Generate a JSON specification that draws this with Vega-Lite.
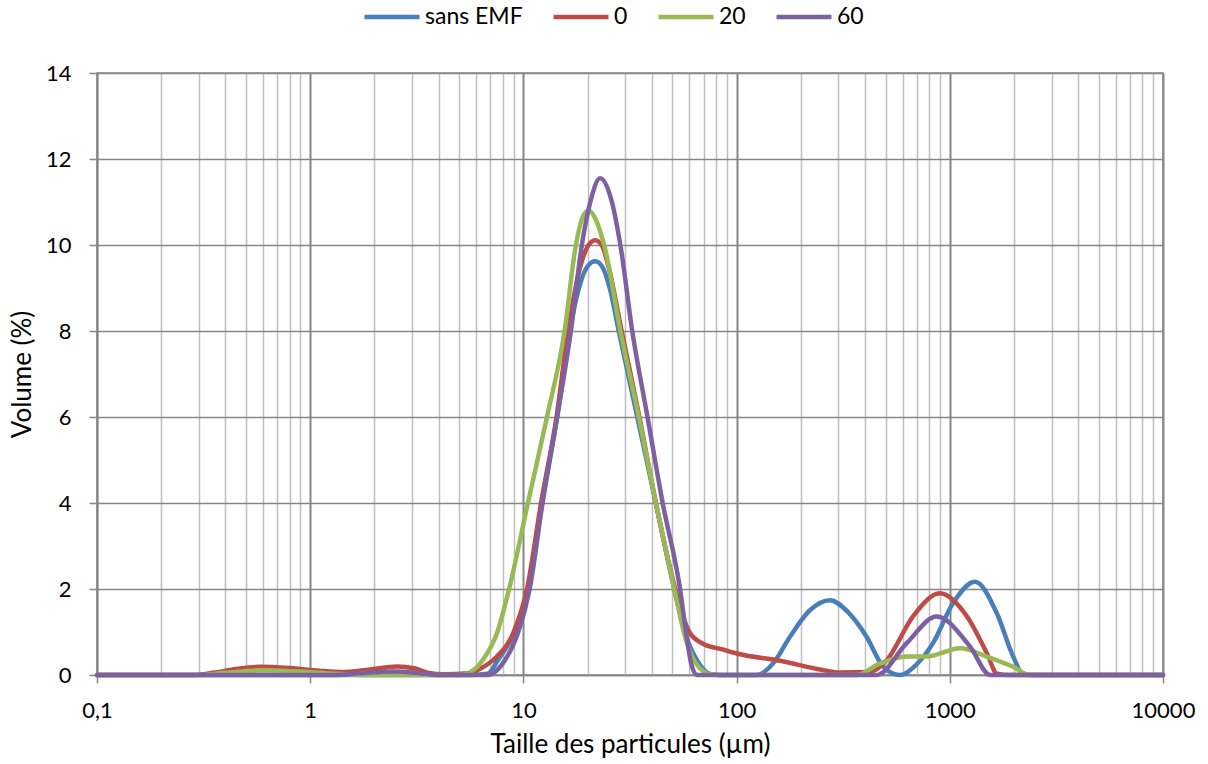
{
  "$schema": "https://vega.github.io/schema/vega-lite/v6.json",
  "autosize": "none",
  "width": 1066,
  "height": 602,
  "padding": {"left": 97, "top": 73, "right": 45, "bottom": 89},
  "background": "white",
  "config": {
    "font": "Lato",
    "view": {"stroke": "#868686", "strokeWidth": 1.5}
  },
  "data": {
    "values": [
      {"s": "sans EMF", "x": 0.1, "y": 0},
      {"s": "sans EMF", "x": 1, "y": 0},
      {"s": "sans EMF", "x": 5.5, "y": 0},
      {"s": "sans EMF", "x": 6.8, "y": 0.03},
      {"s": "sans EMF", "x": 7.6, "y": 0.35},
      {"s": "sans EMF", "x": 9.1, "y": 1.0},
      {"s": "sans EMF", "x": 10.6, "y": 2.0},
      {"s": "sans EMF", "x": 12.2, "y": 4.0},
      {"s": "sans EMF", "x": 14.4, "y": 6.0},
      {"s": "sans EMF", "x": 16.5, "y": 8.0},
      {"s": "sans EMF", "x": 18.6, "y": 9.15},
      {"s": "sans EMF", "x": 20.1, "y": 9.52},
      {"s": "sans EMF", "x": 21.7, "y": 9.62},
      {"s": "sans EMF", "x": 23.4, "y": 9.5},
      {"s": "sans EMF", "x": 25.4, "y": 9.0},
      {"s": "sans EMF", "x": 28.0, "y": 8.0},
      {"s": "sans EMF", "x": 34.2, "y": 6.0},
      {"s": "sans EMF", "x": 41.8, "y": 4.0},
      {"s": "sans EMF", "x": 51.0, "y": 2.0},
      {"s": "sans EMF", "x": 58.0, "y": 0.9},
      {"s": "sans EMF", "x": 66.0, "y": 0.3},
      {"s": "sans EMF", "x": 76.0, "y": 0.02},
      {"s": "sans EMF", "x": 90.0, "y": 0},
      {"s": "sans EMF", "x": 124, "y": 0},
      {"s": "sans EMF", "x": 150, "y": 0.3},
      {"s": "sans EMF", "x": 178, "y": 0.89},
      {"s": "sans EMF", "x": 220, "y": 1.5},
      {"s": "sans EMF", "x": 274, "y": 1.74},
      {"s": "sans EMF", "x": 335, "y": 1.45},
      {"s": "sans EMF", "x": 407, "y": 0.89},
      {"s": "sans EMF", "x": 488, "y": 0.19},
      {"s": "sans EMF", "x": 584, "y": 0},
      {"s": "sans EMF", "x": 700, "y": 0.25},
      {"s": "sans EMF", "x": 834, "y": 0.74},
      {"s": "sans EMF", "x": 1035, "y": 1.67},
      {"s": "sans EMF", "x": 1313, "y": 2.17},
      {"s": "sans EMF", "x": 1660, "y": 1.44},
      {"s": "sans EMF", "x": 1983, "y": 0.43},
      {"s": "sans EMF", "x": 2204, "y": 0.02},
      {"s": "sans EMF", "x": 2500, "y": 0},
      {"s": "sans EMF", "x": 10000, "y": 0},

      {"s": "0", "x": 0.1, "y": 0},
      {"s": "0", "x": 0.28, "y": 0},
      {"s": "0", "x": 0.35, "y": 0.05},
      {"s": "0", "x": 0.45, "y": 0.14},
      {"s": "0", "x": 0.58, "y": 0.19},
      {"s": "0", "x": 0.8, "y": 0.16},
      {"s": "0", "x": 1.1, "y": 0.1},
      {"s": "0", "x": 1.4, "y": 0.07},
      {"s": "0", "x": 1.9, "y": 0.13},
      {"s": "0", "x": 2.55, "y": 0.2},
      {"s": "0", "x": 3.1, "y": 0.15},
      {"s": "0", "x": 3.6, "y": 0.05},
      {"s": "0", "x": 4.2, "y": 0.02},
      {"s": "0", "x": 5.5, "y": 0.04},
      {"s": "0", "x": 6.3, "y": 0.15},
      {"s": "0", "x": 7.4, "y": 0.4},
      {"s": "0", "x": 9.0, "y": 1.0},
      {"s": "0", "x": 10.4, "y": 2.0},
      {"s": "0", "x": 12.1, "y": 4.0},
      {"s": "0", "x": 14.3, "y": 6.0},
      {"s": "0", "x": 16.2, "y": 8.0},
      {"s": "0", "x": 18.5, "y": 9.5},
      {"s": "0", "x": 20.1, "y": 9.98},
      {"s": "0", "x": 21.7, "y": 10.11},
      {"s": "0", "x": 23.4, "y": 9.98},
      {"s": "0", "x": 25.2, "y": 9.45},
      {"s": "0", "x": 28.9, "y": 8.0},
      {"s": "0", "x": 35.0, "y": 6.0},
      {"s": "0", "x": 41.8, "y": 4.0},
      {"s": "0", "x": 51.6, "y": 2.0},
      {"s": "0", "x": 60.0, "y": 1.0},
      {"s": "0", "x": 70.0, "y": 0.72},
      {"s": "0", "x": 85.0, "y": 0.6},
      {"s": "0", "x": 100, "y": 0.5},
      {"s": "0", "x": 160, "y": 0.33},
      {"s": "0", "x": 250, "y": 0.12},
      {"s": "0", "x": 300, "y": 0.06},
      {"s": "0", "x": 420, "y": 0.07},
      {"s": "0", "x": 507, "y": 0.35},
      {"s": "0", "x": 671, "y": 1.36},
      {"s": "0", "x": 899, "y": 1.9},
      {"s": "0", "x": 1204, "y": 1.36},
      {"s": "0", "x": 1494, "y": 0.5},
      {"s": "0", "x": 1665, "y": 0.03},
      {"s": "0", "x": 1900, "y": 0},
      {"s": "0", "x": 10000, "y": 0},

      {"s": "20", "x": 0.1, "y": 0},
      {"s": "20", "x": 0.3, "y": 0},
      {"s": "20", "x": 0.4, "y": 0.05},
      {"s": "20", "x": 0.6, "y": 0.11},
      {"s": "20", "x": 0.9, "y": 0.08},
      {"s": "20", "x": 1.3, "y": 0.03},
      {"s": "20", "x": 1.8, "y": 0},
      {"s": "20", "x": 5.0, "y": 0},
      {"s": "20", "x": 5.5, "y": 0.04},
      {"s": "20", "x": 6.5, "y": 0.37},
      {"s": "20", "x": 7.55, "y": 1.0},
      {"s": "20", "x": 8.57, "y": 2.0},
      {"s": "20", "x": 10.5, "y": 4.0},
      {"s": "20", "x": 12.9, "y": 6.0},
      {"s": "20", "x": 15.6, "y": 8.0},
      {"s": "20", "x": 17.5, "y": 9.9},
      {"s": "20", "x": 18.8, "y": 10.6},
      {"s": "20", "x": 20.2, "y": 10.8},
      {"s": "20", "x": 21.8, "y": 10.6},
      {"s": "20", "x": 24.2, "y": 9.9},
      {"s": "20", "x": 28.5, "y": 8.0},
      {"s": "20", "x": 34.8, "y": 6.0},
      {"s": "20", "x": 41.8, "y": 4.0},
      {"s": "20", "x": 51.0, "y": 2.0},
      {"s": "20", "x": 58.0, "y": 0.8},
      {"s": "20", "x": 66.0, "y": 0.2},
      {"s": "20", "x": 76.0, "y": 0.02},
      {"s": "20", "x": 90.0, "y": 0},
      {"s": "20", "x": 366, "y": 0},
      {"s": "20", "x": 471, "y": 0.27},
      {"s": "20", "x": 628, "y": 0.43},
      {"s": "20", "x": 779, "y": 0.43},
      {"s": "20", "x": 1117, "y": 0.62},
      {"s": "20", "x": 1489, "y": 0.43},
      {"s": "20", "x": 1986, "y": 0.19},
      {"s": "20", "x": 2377, "y": 0},
      {"s": "20", "x": 10000, "y": 0},

      {"s": "60", "x": 0.1, "y": 0},
      {"s": "60", "x": 1.3, "y": 0},
      {"s": "60", "x": 1.7, "y": 0.04},
      {"s": "60", "x": 2.5, "y": 0.08},
      {"s": "60", "x": 3.3, "y": 0.04},
      {"s": "60", "x": 4.0, "y": 0},
      {"s": "60", "x": 6.8, "y": 0},
      {"s": "60", "x": 8.2, "y": 0.35},
      {"s": "60", "x": 9.46, "y": 1.0},
      {"s": "60", "x": 10.7, "y": 2.0},
      {"s": "60", "x": 12.3, "y": 4.0},
      {"s": "60", "x": 14.4, "y": 6.0},
      {"s": "60", "x": 16.7, "y": 8.0},
      {"s": "60", "x": 18.8, "y": 10.0},
      {"s": "60", "x": 20.6, "y": 11.0},
      {"s": "60", "x": 22.9, "y": 11.55},
      {"s": "60", "x": 26.0, "y": 11.0},
      {"s": "60", "x": 28.5, "y": 10.0},
      {"s": "60", "x": 32.4, "y": 8.0},
      {"s": "60", "x": 38.2, "y": 6.0},
      {"s": "60", "x": 45.0, "y": 4.0},
      {"s": "60", "x": 54.3, "y": 2.0},
      {"s": "60", "x": 57.9, "y": 1.0},
      {"s": "60", "x": 61.0, "y": 0.3},
      {"s": "60", "x": 65.0, "y": 0},
      {"s": "60", "x": 454, "y": 0},
      {"s": "60", "x": 628, "y": 0.74},
      {"s": "60", "x": 867, "y": 1.36},
      {"s": "60", "x": 1245, "y": 0.66},
      {"s": "60", "x": 1545, "y": 0},
      {"s": "60", "x": 10000, "y": 0}
    ]
  },
  "mark": {"type": "line", "interpolate": "monotone", "strokeWidth": 4.5, "strokeCap": "round", "strokeJoin": "round"},
  "encoding": {
    "x": {
      "field": "x",
      "type": "quantitative",
      "scale": {"type": "log", "domain": [0.1, 10000], "nice": false},
      "axis": {
        "title": "Taille des particules (µm)",
        "values": [0.1,0.2,0.3,0.4,0.5,0.6,0.7,0.8,0.9,1,2,3,4,5,6,7,8,9,10,20,30,40,50,60,70,80,90,100,200,300,400,500,600,700,800,900,1000,2000,3000,4000,5000,6000,7000,8000,9000,10000],
        "labelExpr": "datum.value == 0.1 ? '0,1' : (indexof([1,10,100,1000,10000], datum.value) >= 0 ? format(datum.value, 'd') : '')",
        "labelFontSize": 22,
        "labelColor": "#000000",
        "labelPadding": 17,
        "labelOverlap": false,
        "labelFlush": false,
        "titleFontSize": 26,
        "titleFontWeight": "normal",
        "titleColor": "#000000",
        "titlePadding": 10,
        "domainColor": "#868686",
        "domainWidth": 1.5,
        "tickSize": 8,
        "tickWidth": 1.5,
        "tickColor": {"condition": {"test": "indexof([0.1,1,10,100,1000,10000], datum.value) >= 0", "value": "#868686"}, "value": "rgba(0,0,0,0)"},
        "grid": true,
        "gridColor": {"condition": {"test": "indexof([0.1,1,10,100,1000,10000], datum.value) >= 0", "value": "#868686"}, "value": "#bfbfbf"},
        "gridWidth": {"condition": {"test": "indexof([0.1,1,10,100,1000,10000], datum.value) >= 0", "value": 2}, "value": 1.5}
      }
    },
    "y": {
      "field": "y",
      "type": "quantitative",
      "scale": {"domain": [0, 14], "nice": false},
      "axis": {
        "title": "Volume (%)",
        "values": [0, 2, 4, 6, 8, 10, 12, 14],
        "labelFontSize": 22,
        "labelColor": "#000000",
        "labelPadding": 18,
        "titleFontSize": 26,
        "titleFontWeight": "normal",
        "titleColor": "#000000",
        "titlePadding": 10,
        "domainColor": "#868686",
        "domainWidth": 1.5,
        "tickColor": "#868686",
        "tickWidth": 1.5,
        "tickSize": 8,
        "gridColor": "#868686",
        "gridWidth": 1.5
      }
    },
    "color": {
      "field": "s",
      "type": "nominal",
      "sort": null,
      "scale": {"domain": ["sans EMF", "0", "20", "60"], "range": ["#4a7ebb", "#be4b48", "#98b954", "#7d60a0"]},
      "legend": {
        "title": null,
        "orient": "none",
        "direction": "horizontal",
        "columns": 4,
        "legendX": 265,
        "legendY": -86,
        "symbolType": "stroke",
        "symbolSize": 3025,
        "symbolStrokeWidth": 4.5,
        "labelFontSize": 23,
        "labelColor": "#000000",
        "labelOffset": 3,
        "columnPadding": 21
      }
    }
  }
}
